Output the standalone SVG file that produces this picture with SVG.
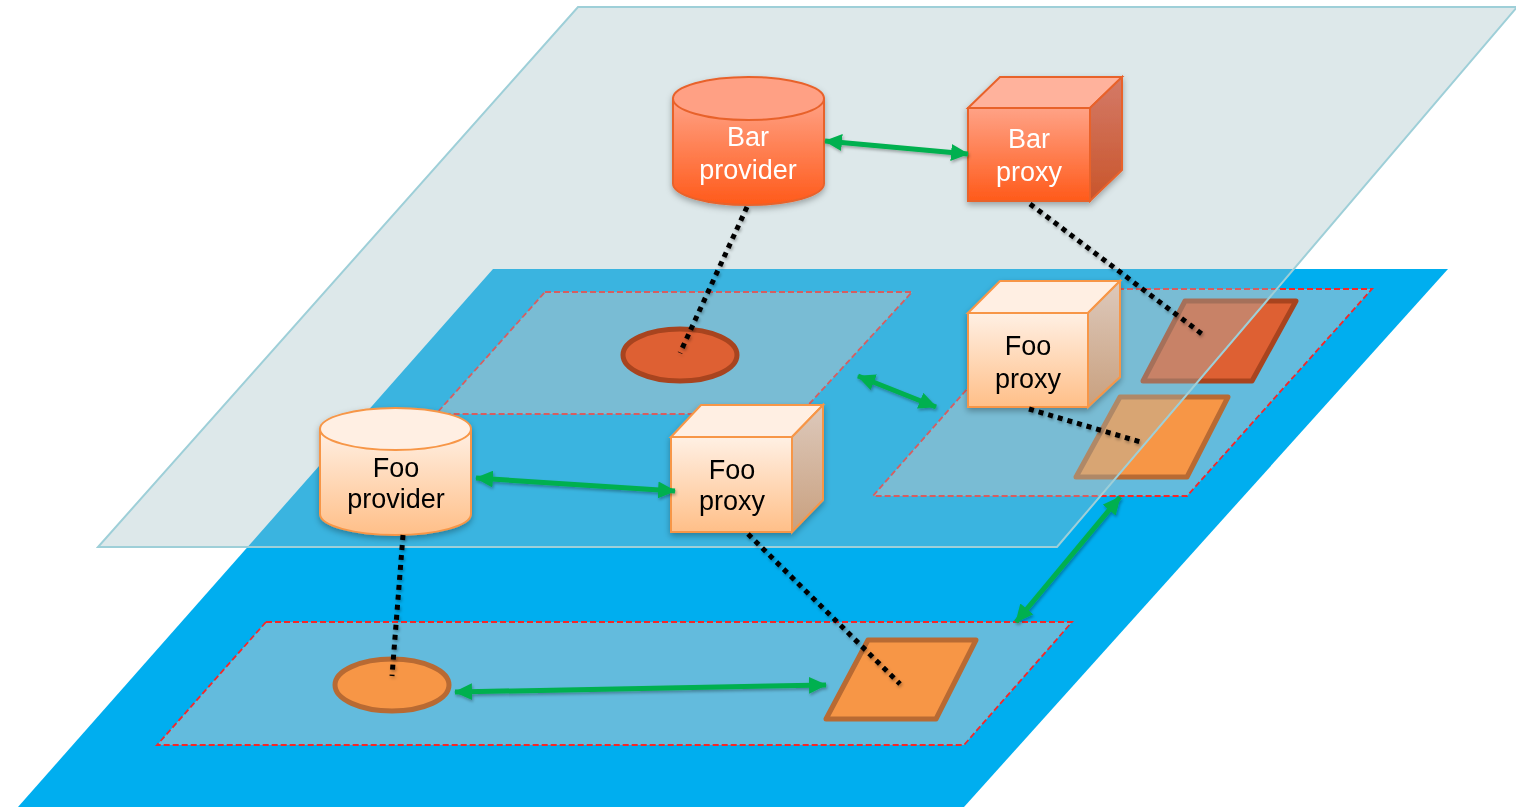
<svg xmlns="http://www.w3.org/2000/svg" width="1516" height="807" viewBox="0 0 1516 807">
<style>
.region{fill:rgb(198,200,203);fill-opacity:0.5;stroke:#F52828;stroke-width:1.8;stroke-dasharray:6 3}
.dot{stroke:#000;stroke-width:5;stroke-dasharray:5 5;fill:none}
.arrow{stroke:#00B050;stroke-width:5;fill:none;marker-start:url(#ah);marker-end:url(#ah)}
.barS{stroke:#E8622C;stroke-width:2}
.fooS{stroke:#F79646;stroke-width:2}
.lblW{font-family:"Liberation Sans",Arial,sans-serif;font-size:27px;fill:#fff;text-anchor:middle}
.lblB{font-family:"Liberation Sans",Arial,sans-serif;font-size:27px;fill:#000;text-anchor:middle}
.pDark{fill:#DE6033;stroke:#A8441F;stroke-width:5;stroke-linejoin:round}
.pLight{fill:#F79646;stroke:#B86A33;stroke-width:5;stroke-linejoin:round}
</style>
<defs>
<marker id="ah" viewBox="0 0 18 17" markerWidth="18" markerHeight="17" refX="17" refY="8.5" orient="auto-start-reverse" markerUnits="userSpaceOnUse">
<path d="M0,0 L18,8.5 L0,17 z" fill="#00B050"/>
</marker>
<linearGradient id="barGrad" x1="0" y1="0" x2="0" y2="1"><stop offset="0" stop-color="#FFA286"/><stop offset="1" stop-color="#FF5A1A"/></linearGradient>
<linearGradient id="barSide" x1="0" y1="0" x2="0" y2="1"><stop offset="0" stop-color="#D47A68"/><stop offset="1" stop-color="#C9552A"/></linearGradient>
<linearGradient id="fooGrad" x1="0" y1="0" x2="0" y2="1"><stop offset="0" stop-color="#FFF0E4"/><stop offset="1" stop-color="#FFBF88"/></linearGradient>
<linearGradient id="fooSide" x1="0" y1="0" x2="0" y2="1"><stop offset="0" stop-color="#DDC9BC"/><stop offset="1" stop-color="#C9A07E"/></linearGradient>
<filter id="sh" x="-20%" y="-20%" width="140%" height="150%"><feDropShadow dx="0" dy="3" stdDeviation="3" flood-color="#000" flood-opacity="0.3"/></filter>
<filter id="shl" x="-10%" y="-30%" width="120%" height="160%"><feDropShadow dx="1" dy="2" stdDeviation="1.5" flood-color="#000" flood-opacity="0.3"/></filter>
</defs>
<rect width="1516" height="807" fill="#fff"/>
<g id="lower-plane">
<polygon points="493,269 1448,269 964,807 18,807" fill="#00AEEF"/>
</g>
<g id="region-a"><polygon class="region" points="545,292 912,292 800,414 436,414"/></g>
<g id="region-b"><polygon class="region" points="1055,289 1372,289 1187,496 873,496"/>
<polygon class="pDark" points="1185,301 1296,301 1252,381 1143,381"/>
<polygon class="pLight" points="1120,397 1228,397 1187,477 1076,477"/>
</g>
<g id="region-c"><polygon class="region" points="266,622 1072,622 964,745 157,745"/>
<ellipse class="pLight" cx="392" cy="685" rx="57" ry="26"/>
<polygon class="pLight" points="868,640 976,640 936,719 826,719"/>
</g>
<g id="upper-plane">
<polygon points="578,7 1517,7 1057,547 98,547" fill="rgb(162,192,197)" fill-opacity="0.36" stroke="#9ECFD8" stroke-width="2"/>
</g>
<g id="bar-endpoint"><ellipse class="pDark" cx="680" cy="355" rx="57" ry="26"/></g>
<g id="bar-provider" filter="url(#sh)">
<path class="barS" d="M673,98.5 L673,183.5 A75.5,21.5 0 0 0 824,183.5 L824,98.5 Z" fill="url(#barGrad)"/>
<ellipse class="barS" cx="748.5" cy="98.5" rx="75.5" ry="21.5" fill="#FFA084"/>
<text class="lblW" x="748" y="146">Bar</text>
<text class="lblW" x="748" y="179">provider</text>
</g>
<g id="bar-proxy" filter="url(#sh)">
<polygon class="barS" points="968,108 1000,77 1122,77 1090,108" fill="#FFB29C"/>
<polygon class="barS" points="1090,108 1122,77 1122,170 1090,201" fill="url(#barSide)"/>
<rect class="barS" x="968" y="108" width="122" height="93" fill="url(#barGrad)"/>
<text class="lblW" x="1029" y="148">Bar</text>
<text class="lblW" x="1029" y="181">proxy</text>
</g>
<g id="foo-proxy-upper" filter="url(#sh)">
<polygon class="fooS" points="968,313 1000,281 1120,281 1088,313" fill="#FFEFE3"/>
<polygon class="fooS" points="1088,313 1120,281 1120,377 1088,407" fill="url(#fooSide)"/>
<rect class="fooS" x="968" y="313" width="120" height="94" fill="url(#fooGrad)"/>
<text class="lblB" x="1028" y="355">Foo</text>
<text class="lblB" x="1028" y="388">proxy</text>
</g>
<g id="foo-provider" filter="url(#sh)">
<path class="fooS" d="M320,429 L320,514 A75.5,21 0 0 0 471,514 L471,429 Z" fill="url(#fooGrad)"/>
<ellipse class="fooS" cx="395.5" cy="429" rx="75.5" ry="21" fill="#FFEFE3"/>
<text class="lblB" x="396" y="477">Foo</text>
<text class="lblB" x="396" y="508">provider</text>
</g>
<g id="foo-proxy-lower" filter="url(#sh)">
<polygon class="fooS" points="671,437 701,405 823,405 792,437" fill="#FFEFE3"/>
<polygon class="fooS" points="792,437 823,405 823,500 792,532" fill="url(#fooSide)"/>
<rect class="fooS" x="671" y="437" width="121" height="95" fill="url(#fooGrad)"/>
<text class="lblB" x="732" y="479">Foo</text>
<text class="lblB" x="732" y="510">proxy</text>
</g>
<g id="connectors" filter="url(#shl)">
<line class="dot" x1="747" y1="207" x2="680" y2="353"/>
<line class="dot" x1="1030" y1="204" x2="1202" y2="334"/>
<line class="dot" x1="1029" y1="409" x2="1144" y2="443"/>
<line class="dot" x1="403" y1="535" x2="392" y2="676"/>
<line class="dot" x1="748" y1="534" x2="900" y2="684"/>
<line class="arrow" x1="825" y1="141" x2="968" y2="154"/>
<line class="arrow" x1="858" y1="376" x2="936" y2="407"/>
<line class="arrow" x1="476" y1="478" x2="675" y2="491"/>
<line class="arrow" x1="1120" y1="497" x2="1016" y2="622"/>
<line class="arrow" x1="455" y1="692" x2="826" y2="685"/>
</g>
</svg>
